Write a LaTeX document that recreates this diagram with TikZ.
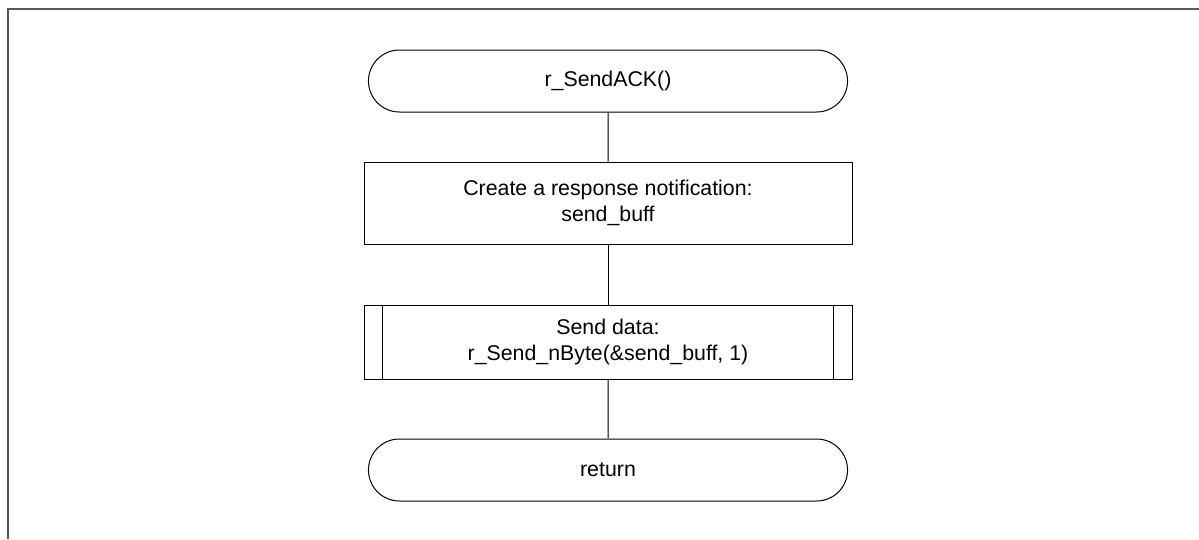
\documentclass[tikz,border=0pt]{standalone}
\usepackage{fontspec}
\setmainfont{Liberation Sans}
\usepackage{tikz}
\usetikzlibrary{shapes.misc}

\begin{document}
\begin{tikzpicture}[x=0.75pt, y=-0.75pt, line width=0.75pt,
    terminal/.style={draw, rounded rectangle, minimum width=366pt, minimum height=46.5pt, font=\fontsize{16}{19.5}\selectfont},
    procbox/.style={draw, rectangle, minimum width=366pt, minimum height=61.5pt, align=center, font=\fontsize{16}{19.5}\selectfont},
    callbox/.style={procbox, minimum height=55.5pt}]
  \useasboundingbox (0,0) rectangle (1199,539);
  \draw [gray!70!black, line width=1.2pt] (8,539) -- (8,9) -- (1199,9);
  \node [terminal] (start) at (608,81) {r\_SendACK()};
  \node [procbox] (create) at (608,203) {Create a response notification:\\ send\_buff};
  \node [callbox] (send) at (608,342) {Send data:\\ r\_Send\_nByte(\&send\_buff, 1)};
  \draw ([xshift=14.25pt]send.north west) -- ([xshift=14.25pt]send.south west);
  \draw ([xshift=-14.25pt]send.north east) -- ([xshift=-14.25pt]send.south east);
  \node [terminal] (ret) at (608,470) {return};
  \draw (start) -- (create);
  \draw (create) -- (send);
  \draw (send) -- (ret);
\end{tikzpicture}
\end{document}
